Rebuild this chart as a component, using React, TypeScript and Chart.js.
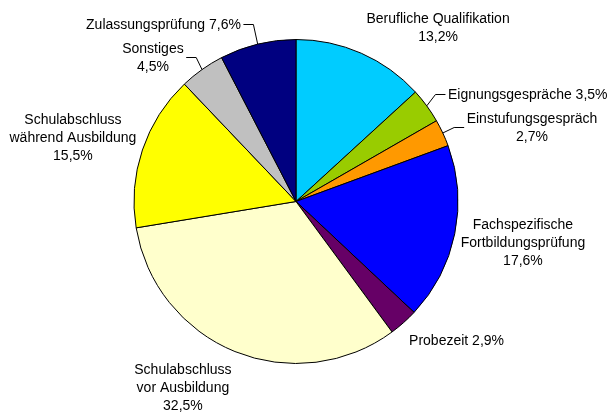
import React, { useEffect, useRef } from "react";
import { Chart, registerables } from "chart.js";

Chart.register(...registerables);

const categories = [
  "Berufliche Qualifikation",
  "Eignungsgespräche",
  "Einstufungsgespräch",
  "Fachspezifische Fortbildungsprüfung",
  "Probezeit",
  "Schulabschluss vor Ausbildung",
  "Schulabschluss während Ausbildung",
  "Sonstiges",
  "Zulassungsprüfung",
];
const shares = [13.2, 3.5, 2.7, 17.6, 2.9, 32.5, 15.5, 4.5, 7.6];
const labelLines = [
  ["Berufliche Qualifikation", "13,2%"],
  ["Eignungsgespräche 3,5%"],
  ["Einstufungsgespräch", "2,7%"],
  ["Fachspezifische", "Fortbildungsprüfung", "17,6%"],
  ["Probezeit 2,9%"],
  ["Schulabschluss", "vor Ausbildung", "32,5%"],
  ["Schulabschluss", "während Ausbildung", "15,5%"],
  ["Sonstiges", "4,5%"],
  ["Zulassungsprüfung 7,6%"],
];
const sliceColors = [
  "#00CCFF",
  "#99CC00",
  "#FF9900",
  "#0000FF",
  "#660066",
  "#FFFFCC",
  "#FFFF00",
  "#C0C0C0",
  "#000080",
];

// label placement relative to the pie centre, in units of the radius
const labelPlacement: { dx: number; dy: number; align: "left" | "center" | "right"; leader: boolean }[] = [
  { dx: 0.877, dy: -1.071, align: "center", leader: false },
  { dx: 0.938, dy: -0.657, align: "left", leader: true },
  { dx: 1.457, dy: -0.454, align: "center", leader: true },
  { dx: 1.401, dy: 0.256, align: "center", leader: false },
  { dx: 0.698, dy: 0.861, align: "left", leader: false },
  { dx: -0.698, dy: 1.151, align: "center", leader: false },
  { dx: -1.377, dy: -0.392, align: "center", leader: false },
  { dx: -0.883, dy: -0.883, align: "center", leader: true },
  { dx: -0.34, dy: -1.09, align: "right", leader: true },
];

const FONT = '14px "Liberation Sans", Arial, sans-serif';
const LINE_H = 18;

const labelPlugin = {
  id: "pieLabels",
  afterDatasetsDraw(chart: any) {
    const ctx = chart.ctx;
    const meta = chart.getDatasetMeta(0);
    ctx.save();
    ctx.font = FONT;
    ctx.fillStyle = "#000";
    ctx.strokeStyle = "#000";
    ctx.lineWidth = 1;
    ctx.textBaseline = "middle";
    meta.data.forEach((arc: any, i: number) => {
      const p = labelPlacement[i];
      const R = arc.outerRadius;
      const cx = arc.x;
      const cy = arc.y;
      const bx = cx + p.dx * R;
      const by = cy + p.dy * R;
      const lines = labelLines[i];
      const widths = lines.map((l) => ctx.measureText(l).width);
      const maxW = Math.max(...widths);
      const top = by - ((lines.length - 1) * LINE_H) / 2;
      ctx.textAlign = p.align;
      lines.forEach((l, k) => {
        ctx.fillText(l, bx, top + k * LINE_H);
      });
      if (p.leader) {
        const mid = (arc.startAngle + arc.endAngle) / 2;
        const ex = cx + Math.cos(mid) * R;
        const ey = cy + Math.sin(mid) * R;
        let left: number, right: number;
        if (p.align === "left") {
          left = bx;
          right = bx + maxW;
        } else if (p.align === "right") {
          left = bx - maxW;
          right = bx;
        } else {
          left = bx - maxW / 2;
          right = bx + maxW / 2;
        }
        const onRight = ex < left;
        const tx = onRight ? left - 2.5 : right + 2.5;
        const kx = onRight ? tx - 10 : tx + 10;
        const ly = Math.round(by - 1) + 0.5;
        ctx.beginPath();
        ctx.moveTo(tx, ly);
        ctx.lineTo(kx, ly);
        ctx.lineTo(ex, ey);
        ctx.stroke();
      }
    });
    ctx.restore();
  },
};

export default function App() {
  const ref = useRef<HTMLCanvasElement | null>(null);
  useEffect(() => {
    if (!ref.current) return;
    const chart = new Chart(ref.current, {
      type: "pie",
      data: {
        labels: categories,
        datasets: [
          {
            data: shares,
            backgroundColor: sliceColors,
            borderColor: "#000",
            borderWidth: 1,
          },
        ],
      },
      options: {
        responsive: false,
        maintainAspectRatio: false,
        animation: false,
        radius: 162,
        layout: { padding: { left: 0, right: 16, top: 0, bottom: 12 } },
        plugins: {
          legend: { display: false },
          tooltip: { enabled: false },
          title: { display: false },
        },
      } as any,
      plugins: [labelPlugin],
    });
    return () => chart.destroy();
  }, []);
  return (
    <div style={{ position: "fixed", left: 0, top: 0, width: 608, height: 415, background: "#fff" }}>
      <canvas ref={ref} width={608} height={415} style={{ width: 608, height: 415 }} />
    </div>
  );
}
